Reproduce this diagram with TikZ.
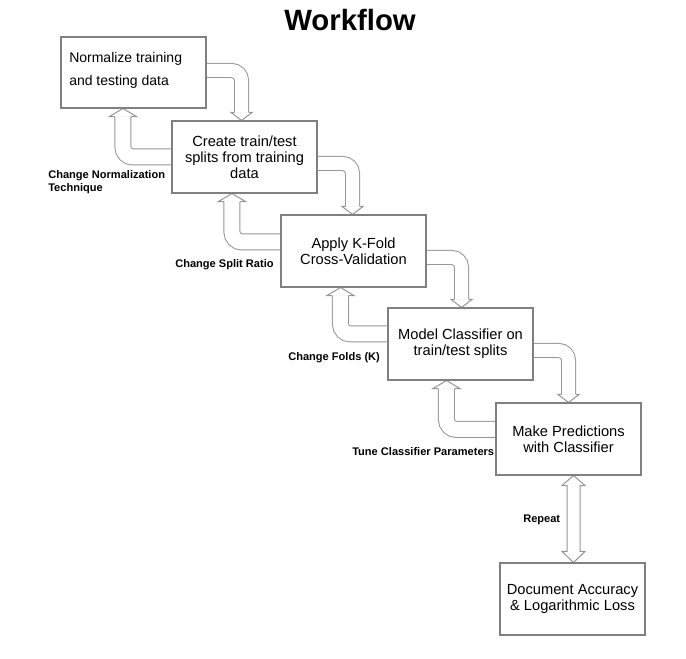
\documentclass[tikz,border=0pt]{standalone}
\usepackage{fontspec}
\setmainfont{Liberation Sans}
\usetikzlibrary{calc,backgrounds}

\definecolor{boxgray}{RGB}{128,128,128}
\definecolor{arrowgray}{RGB}{150,150,150}

\tikzset{
  stage/.style={draw=boxgray, line width=0.8pt, minimum width=108.75pt, minimum height=54pt,
    align=center, inner sep=0pt, font=\fontsize{11}{12}\selectfont},
  shaft/.style={draw=arrowgray, line width=0.75pt, double=white, double distance=#1,
    rounded corners=7.5pt},
  shaft/.default=9.75pt,
  head/.style={draw=arrowgray, line width=0.75pt, fill=white, line join=miter},
  note/.style={font=\fontsize{8.3}{9.75}\selectfont\bfseries, align=left, inner sep=0pt, anchor=west}
}

% hollow arrow: out of the right side of #1, down onto #2
\newcommand{\fwdarrow}[3]{%
  \path ($(#1.north east)+(0,#3)$) coordinate (s) ++(35,0) coordinate (k);
  \path (k |- #2.north) coordinate (t);
  \draw[shaft] (s) -- (k) -- ($(t)+(0,-8)$);
  \draw[head] ($(t)+(-7,-8)$) -- ++(-3.5,0) -- (t) -- ($(t)+(10.5,-8)$) -- ++(-3.5,0);
}
% hollow arrow: out of the left side of #1, up onto #2
\newcommand{\backarrow}[4]{%
  \path ($(#1.north west)+(0,#3)$) coordinate (s);
  \path ($(#2.south west)+(#4,0)$) coordinate (t);
  \draw[shaft=11.25pt] (s) -- (s -| t) -- ($(t)+(0,8)$);
  \draw[head] ($(t)+(-8,8)$) -- ++(-5.5,0) -- (t) -- ($(t)+(13.5,8)$) -- ++(-5.5,0);
}

\begin{document}
\begin{tikzpicture}[x=0.75pt,y=-0.75pt]
\useasboundingbox (0,0) rectangle (686,659);

\node[font=\fontsize{22}{26}\selectfont\bfseries] (title) at (350,20) {Workflow};

% stages
\node[stage, minimum height=53.25pt] (norm) at (133.5,72.5) {};
\node[align=left, inner sep=0pt, anchor=west, font=\fontsize{10.5}{12}\selectfont] (normtxt)
  at (69,70.5) {Normalize training\\[5pt]and testing data};
\node[stage] (split) at (244.5,157) {Create train/test\\splits from training\\data};
\node[stage] (kfold) at (353.5,251) {Apply K-Fold\\Cross-Validation};
\node[stage] (model) at (460.5,344) {Model Classifier on\\train/test splits};
\node[stage] (pred) at (568.5,439) {Make Predictions\\with Classifier};
\node[stage] (doc) at (572.5,599) {Document Accuracy\\\& Logarithmic Loss};

% loop labels
\node[note] (lnorm) at (48,182.5) {Change Normalization\\Technique};
\node[note] (lsplit) at (175,265) {Change Split Ratio};
\node[note] (lfold) at (288,358) {Change Folds (K)};
\node[note] (ltune) at (352,452) {Tune Classifier Parameters};
\node[note] (lrep) at (523,520) {Repeat};

\begin{pgfonlayer}{background}
\fwdarrow{norm}{split}{34}
\fwdarrow{split}{kfold}{43}
\fwdarrow{kfold}{model}{43}
\fwdarrow{model}{pred}{43}
\backarrow{split}{norm}{36.5}{62.5}
\backarrow{kfold}{split}{27.5}{60.5}
\backarrow{model}{kfold}{26.5}{60}
\backarrow{pred}{model}{27}{59}
% repeat arrow
\path ($(doc.north)+(1,0)$) coordinate (rb) (rb |- pred.south) coordinate (rt);
\draw[head] (rt) -- ++(11.5,10) -- ++(-5,0) -- ($(rb)+(6.5,-11)$) -- ++(5,0) -- (rb)
  -- ++(-11.5,-11) -- ++(5,0) -- ($(rt)+(-6.5,10)$) -- ++(-5,0) -- cycle;
\end{pgfonlayer}
\end{tikzpicture}
\end{document}
